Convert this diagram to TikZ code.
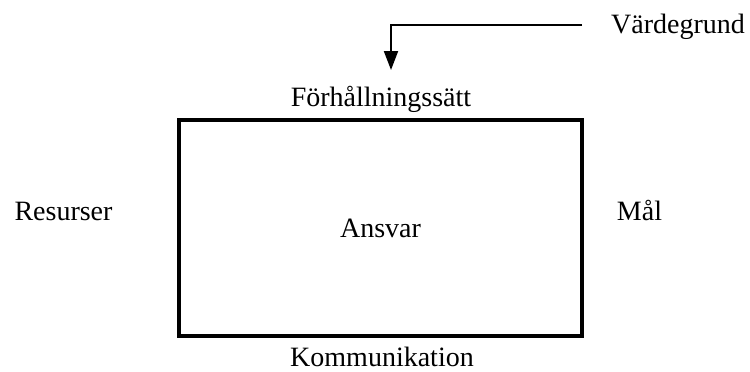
\documentclass[tikz,border=0pt]{standalone}
\usepackage{fontspec}
\setmainfont{Liberation Serif}
\usetikzlibrary{arrows.meta}
\begin{document}
\begin{tikzpicture}[x=1pt,y=-1pt,
  label text/.style={inner sep=0pt,anchor=base,font=\fontsize{28}{34}\selectfont},
  frame/.style={draw,line width=4.5pt,minimum width=403pt,minimum height=216pt,
    inner sep=0pt,font=\fontsize{28}{34}\selectfont},
  link/.style={line width=2pt,-{Triangle[width=14pt,length=19pt]}}]
  \useasboundingbox (0,0) rectangle (750,372);
  % central box
  \node[frame] (box) at (380.5,228) {Ansvar};
  % labels around the box
  \node[label text] (top) at (381,106.5) {Förhållningssätt};
  \node[label text] (bottom) at (382,366) {Kommunikation};
  \node[label text] (left) at (63.5,220.5) {Resurser};
  \node[label text] (right) at (639.5,220) {Mål};
  \node[label text] (value) at (678,33.5) {Värdegrund};
  % arrow from the value base down to the top label
  \coordinate (start) at (582,25);
  \coordinate (bend) at (391,25);
  \coordinate (tip) at (391,70);
  \draw[link] (start) -- (bend) -- (tip);
\end{tikzpicture}
\end{document}
